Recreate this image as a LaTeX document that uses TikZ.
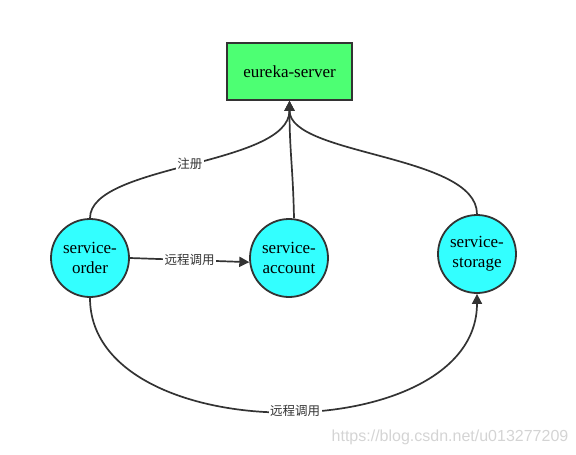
\documentclass[tikz,border=0pt]{standalone}
\usepackage{fontspec}
\setmainfont{Liberation Serif}
\newfontfamily\cjk{Noto Sans CJK SC}
\newfontfamily\wmfont{Liberation Sans}
\usetikzlibrary{arrows.meta}
\definecolor{srvgreen}{HTML}{4DFF73}
\definecolor{srvcyan}{HTML}{33FFFF}
\definecolor{linegray}{HTML}{333333}
\definecolor{wmgray}{HTML}{D4D4D4}
\begin{document}
\begin{tikzpicture}[x=1pt,y=-1pt,
 box/.style={draw=linegray,line width=1.8pt,fill=srvgreen,minimum width=125pt,minimum height=57pt,font=\fontsize{17}{17}\selectfont},
 svc/.style={circle,draw=linegray,line width=1.8pt,fill=srvcyan,minimum size=78pt,inner sep=0pt,align=center,font=\fontsize{17}{20}\selectfont},
 conn/.style={draw=linegray,line width=1.7pt},
 arr/.style={conn,-{Triangle[length=10pt,width=10pt]}},
 lbl/.style={fill=white,inner sep=1.5pt,font=\cjk\fontsize{12.5}{12.5}\selectfont,text=linegray}]
 \useasboundingbox (0,0) rectangle (576,455);
 % nodes
 \node[box] (eureka) at (289.5,71.5) {eureka-server};
 \node[svc] (order) at (90,258) {service-\\order};
 \node[svc] (account) at (289,258) {service-\\account};
 \node[svc] (storage) at (477,254) {service-\\storage};
 % register
 \draw[arr] (order.north) .. controls +(0,-54) and +(0,65) .. node[lbl] {注册} (eureka.south);
 \draw[arr] ([xshift=5pt]account.north) .. controls +(-1,-50) and +(0,50) .. (eureka.south);
 \draw[arr] (storage.north) .. controls +(0,-60) and +(0,55) .. (eureka.south);
 % remote calls
 \draw[arr] (order.east) -- node[lbl] {远程调用} (account.186);
 \draw[arr] (order.south) .. controls +(0,152) and +(0,156) .. node[lbl,pos=0.52] {远程调用} (storage.south);
 % watermark
 \node[text=wmgray,font=\wmfont\fontsize{16}{16}\selectfont] (wm) at (450,437) {https://blog.csdn.net/u013277209};
\end{tikzpicture}
\end{document}
